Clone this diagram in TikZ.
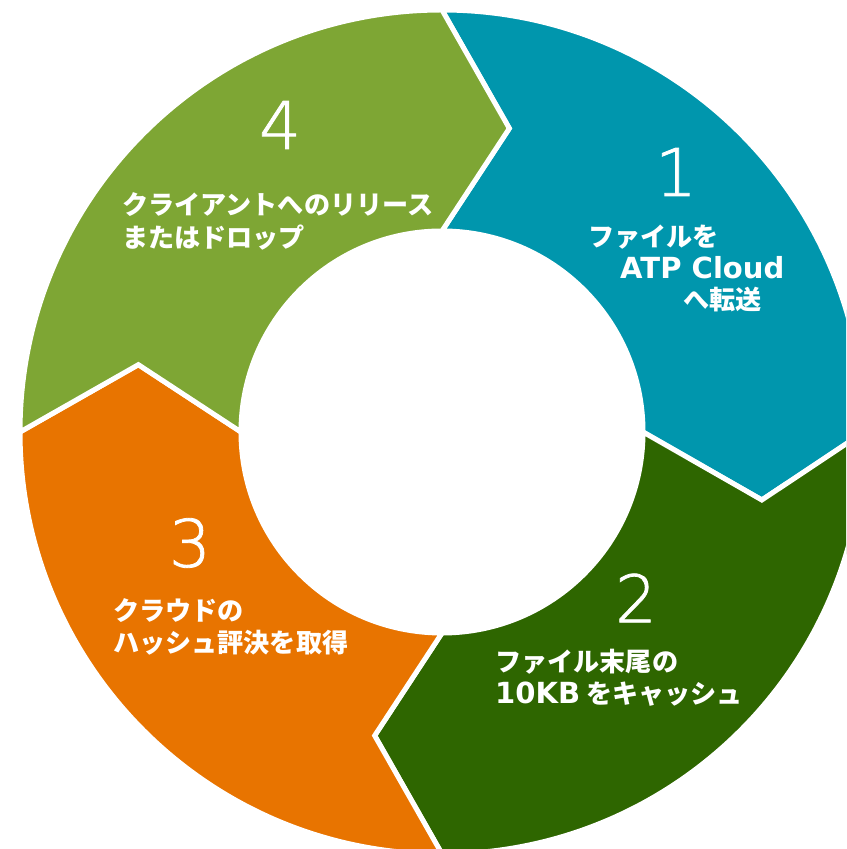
\documentclass[tikz,border=0pt]{standalone}
\usepackage{fontspec}
\newfontfamily\jpfont{Noto Sans CJK JP}
\newfontfamily\latfont{DejaVu Sans}
\newfontfamily\digitfont{DejaVu Sans ExtraLight}[FakeBold=1.2]
\definecolor{segteal}{RGB}{0,150,173}
\definecolor{segdark}{RGB}{46,102,0}
\definecolor{segorange}{RGB}{232,116,0}
\definecolor{segolive}{RGB}{126,166,52}
\tikzset{
  seg/.style={draw=white, line width=0.15cm, line join=miter},
  bignum/.style={text=white, inner sep=0pt, font=\digitfont\fontsize{56}{60}\selectfont},
  label/.style={text=white, inner sep=0pt, anchor=west, align=left,
    font=\jpfont\bfseries\fontsize{22.3}{27.5}\selectfont},
}
\newcommand{\lat}[1]{{\latfont\bfseries\fontsize{24.8}{27.5}\selectfont #1}}
\begin{document}
\begin{tikzpicture}[x=0.03cm, y=0.03cm]
\useasboundingbox (0,0) rectangle (846,849);
\clip (0,0) rectangle (846,849);
\begin{scope}[shift={(442,417)}]
  \coordinate (tip41) at (77.5:311);
  \coordinate (tip12) at (-12:327);
  \coordinate (tip23) at (-102.5:311);
  \coordinate (tip34) at (-192.5:311);
  % segment 1 (teal): 90 -> 0
  \path[seg, fill=segteal] (90:422) arc[start angle=90, end angle=0, radius=422]
     -- (tip12) -- (0:201) arc[start angle=0, end angle=90, radius=201]
     -- (tip41) -- cycle;
  % segment 2 (dark green): 0 -> -90
  \path[seg, fill=segdark] (0:422) arc[start angle=0, end angle=-90, radius=422]
     -- (tip23) -- (-90:201) arc[start angle=-90, end angle=0, radius=201]
     -- (tip12) -- cycle;
  % segment 3 (orange): -90 -> -180
  \path[seg, fill=segorange] (-90:422) arc[start angle=-90, end angle=-180, radius=422]
     -- (tip34) -- (-180:201) arc[start angle=-180, end angle=-90, radius=201]
     -- (tip23) -- cycle;
  % segment 4 (olive): 180 -> 90
  \path[seg, fill=segolive] (180:422) arc[start angle=180, end angle=90, radius=422]
     -- (tip41) -- (90:201) arc[start angle=90, end angle=180, radius=201]
     -- (tip34) -- cycle;
\end{scope}

\node[bignum] (n1) at (676,677) {1};
\node[label] (t1a) at (588,612) {ファイルを};
\node[label] (t1b) at (620,581) {\lat{ATP Cloud}};
\node[label] (t1c) at (683,549) {へ転送};

\node[bignum] (n2) at (636,251) {2};
\node[label] (t2) at (495,171) {ファイル末尾の\\\lat{10KB} をキャッシュ};

\node[bignum] (n3) at (190,306) {3};
\node[label] (t3) at (113,222.5) {クラウドの\\ハッシュ評決を取得};

\node[bignum] (n4) at (280,724) {4};
\node[label] (t4) at (122,627.5) {クライアントへのリリース\\またはドロップ};
\end{tikzpicture}
\end{document}
